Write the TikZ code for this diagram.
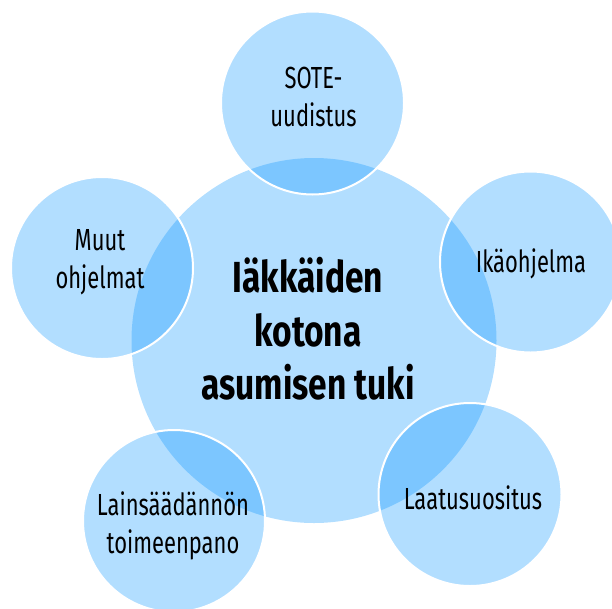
\documentclass[tikz,border=0pt]{standalone}
\usepackage{fontspec}
\setmainfont{Fira Sans}
\newfontfamily\satfont[FakeStretch=0.72]{Fira Sans}
\newfontfamily\ctrfont[FakeStretch=0.77]{Fira Sans}
\definecolor{bub}{RGB}{0,145,255}
\tikzset{
  bubble/.style={circle, fill=bub, fill opacity=0.3, draw=white, line width=2pt, inner sep=0pt, minimum size=#1},
  core/.style={circle, fill=bub, fill opacity=0.3, inner sep=0pt, minimum size=#1},
  sattext/.style={align=center, inner sep=0pt, font=\satfont\fontsize{30.5}{38}\selectfont, text=black},
  ctrtext/.style={align=center, inner sep=0pt, font=\ctrfont\bfseries\fontsize{43.5}{53.3}\selectfont, text=black}
}
\begin{document}
\begin{tikzpicture}[x=1pt,y=-1pt]
\useasboundingbox (0,0) rectangle (612,608);
\clip (0,0) rectangle (612,608);
\node[core=365pt] (ctr) at (314,340.5) {};
\node[bubble=183pt] (sote) at (312.5,103) {};
\node[bubble=181pt] (ika) at (530.5,262) {};
\node[bubble=182pt] (muut) at (102,268) {};
\node[bubble=183pt] (laatu) at (470,494.5) {};
\node[bubble=182pt] (lain) at (174,521) {};
\node[ctrtext] (tctr) at (308,329) {Iäkkäiden\\kotona\\asumisen tuki};
\node[sattext] (tsote) at (313.5,97) {SOTE-\\uudistus};
\node[sattext] (tika) at (531,263.5) {Ikäohjelma};
\node[sattext] (tmuut) at (100,262.5) {Muut\\ohjelmat};
\node[sattext] (tlaatu) at (473,497.5) {Laatusuositus};
\node[sattext] (tlain) at (173,525.5) {Lainsäädännön\\toimeenpano};
\end{tikzpicture}
\end{document}
